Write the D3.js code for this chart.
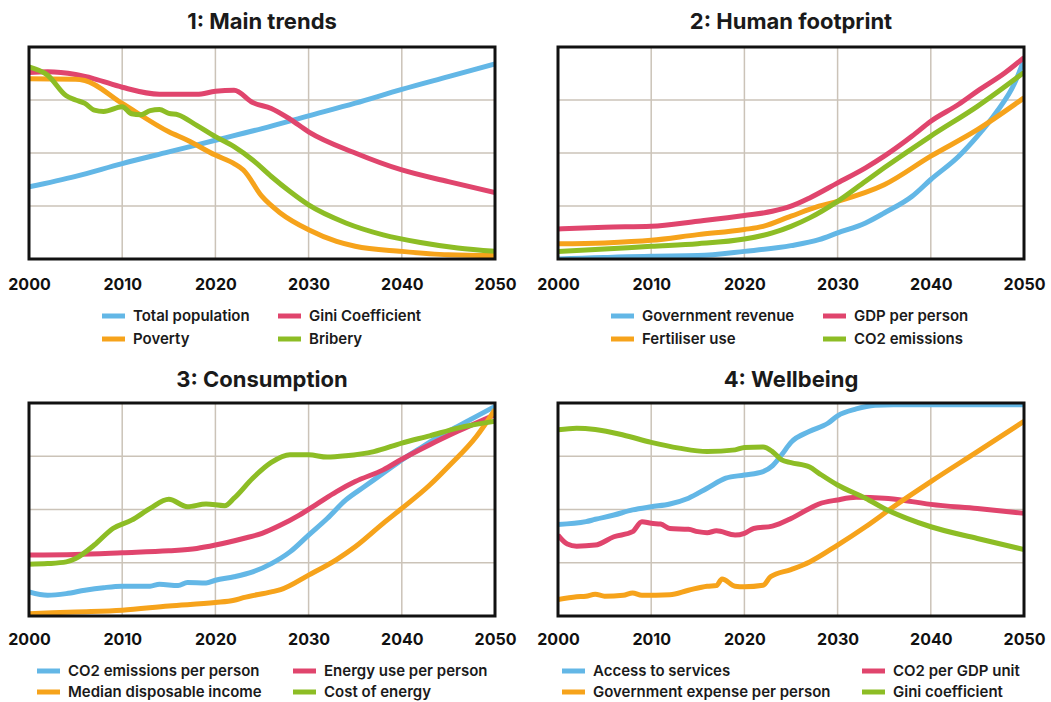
<!DOCTYPE html>
<html><head><meta charset="utf-8">
<script src="https://cdn.jsdelivr.net/npm/d3@7"></script>
<style>
html,body{margin:0;padding:0;background:#fff;}
svg{display:block;font-family:Inter,"Liberation Sans",sans-serif;}
</style></head><body>
<svg id="chart" width="1051" height="702"></svg>
<script>
// ---------- DATA ----------
const years = [2000, 2010, 2020, 2030, 2040, 2050];
const tickLabels = ["2000", "2010", "2020", "2030", "2040", "2050"];
const panelTitles = ["1: Main trends", "2: Human footprint", "3: Consumption", "4: Wellbeing"];

// Panel 1: Main trends
const p1Names = ["Total population", "Gini Coefficient", "Poverty", "Bribery"];
const p1Population = [[2000,34],[2005,39],[2010,45],[2015,50.5],[2020,56],[2025,61.5],[2030,67.5],[2035,73.5],[2040,80],[2045,86],[2050,92]];
const p1Gini = [[2000,88],[2002,88.3],[2005,87],[2007,85],[2010,81],[2014,77.7],[2018,77.7],[2020,79.1],[2022,79.6],[2024,73.8],[2026,71],[2028,66],[2030,60],[2035,50],[2040,42],[2045,36.5],[2050,31.3]];
const p1Poverty = [[2000,85],[2005,84.8],[2006,84.2],[2010,73.4],[2015,60],[2017,56],[2020,49],[2022,45],[2023,42],[2025,29.5],[2027,21.6],[2030,13.8],[2033,8.3],[2035,6],[2040,3.6],[2045,2],[2050,1.6]];
const p1Bribery = [[2000,90.6],[2002,86.7],[2004,77],[2005,75],[2006,73.4],[2007,70.2],[2008,69.6],[2010,71.8],[2011,68.5],[2012,68],[2013,70],[2014,70.5],[2015,68.7],[2016,68],[2018,63],[2020,57.7],[2022,53],[2024,46.7],[2026,38.9],[2028,31.8],[2030,25.5],[2034,17],[2038,11.4],[2042,7.8],[2046,5.2],[2050,3.6]];

// Panel 2: Human footprint
const p2Names = ["Government revenue", "GDP per person", "Fertiliser use", "CO2 emissions"];
const p2Revenue = [[2000,0],[2010,1.3],[2015,1.6],[2020,3.6],[2025,6.3],[2028,9.1],[2030,12.3],[2033,17],[2035,21.7],[2038,29.6],[2040,37.5],[2043,48.5],[2045,58],[2047,69],[2049,83],[2050,94]];
const p2GDP = [[2000,14.2],[2005,15],[2010,15.4],[2015,17.8],[2020,20.5],[2023,22.5],[2025,24.9],[2027,28.8],[2030,35.9],[2033,43],[2035,48.5],[2038,58],[2040,65],[2043,73],[2045,79.2],[2048,88],[2050,95]];
const p2Fertiliser = [[2000,7.2],[2005,7.6],[2010,8.8],[2015,11.5],[2020,13.9],[2022,15.4],[2025,20.2],[2028,24.9],[2030,27.2],[2035,35],[2040,48.5],[2045,61],[2050,76]];
const p2CO2 = [[2000,3.5],[2005,4.7],[2010,6],[2015,7.2],[2020,9.4],[2023,12.3],[2025,15.4],[2027,19.4],[2030,27.2],[2033,36.7],[2035,43],[2040,58],[2045,72],[2050,88]];

// Panel 3: Consumption
const p3Names = ["CO2 emissions per person", "Energy use per person", "Median disposable income", "Cost of energy"];
const p3CO2pp = [[2000,11.3],[2002,9.7],[2004,10.5],[2006,12.1],[2008,13.3],[2010,14],[2013,14],[2014,14.9],[2016,14.3],[2017,15.7],[2019,15.5],[2020,16.8],[2022,18.4],[2024,20.7],[2026,24.6],[2028,30.1],[2030,38],[2032,45.8],[2034,54.5],[2036,60.8],[2038,67],[2040,73.3],[2042,78.8],[2044,84.3],[2046,89],[2048,93.7],[2050,98.4]];
const p3Energy = [[2000,28.6],[2005,28.9],[2010,29.7],[2015,30.6],[2018,31.7],[2020,33.3],[2023,36.4],[2025,38.8],[2027,42.7],[2029,47.4],[2031,52.9],[2033,58.4],[2035,63.1],[2038,68.6],[2040,73.6],[2043,80.4],[2046,86.7],[2050,94.5]];
const p3Income = [[2000,1.1],[2005,1.9],[2010,2.7],[2015,4.7],[2020,6.3],[2022,7.4],[2023,8.6],[2026,11.3],[2027,12.4],[2030,19.2],[2033,26.5],[2035,32.5],[2038,43.5],[2040,50.5],[2043,61.5],[2045,70.2],[2048,84.3],[2050,96.9]];
const p3CostEnergy = [[2000,24.3],[2002,24.6],[2004,25.4],[2005,27],[2007,33.3],[2009,41.1],[2011,45],[2013,50.5],[2015,54.8],[2017,51.3],[2019,52.6],[2021,51.8],[2022,55.3],[2024,64.7],[2026,72.1],[2028,75.7],[2030,75.7],[2032,74.6],[2034,75.2],[2037,77.2],[2040,81.2],[2043,84.6],[2046,88.2],[2050,91.4]];

// Panel 4: Wellbeing
const p4Names = ["Access to services", "CO2 per GDP unit", "Government expense per person", "Gini coefficient"];
const p4Access = [[2000,43],[2003,44.3],[2004,45.4],[2006,47.4],[2008,49.8],[2010,51.3],[2012,52.6],[2014,55.3],[2016,60],[2018,64.7],[2020,66.2],[2022,67.8],[2023,70.5],[2024,75.7],[2025,81.5],[2027,86.7],[2029,90.6],[2030,94],[2032,97.2],[2034,98.9],[2036,99.2],[2050,99.2]];
const p4CO2GDP = [[2000,38],[2001,33.8],[2002,32.8],[2004,33.3],[2006,37.2],[2008,39.6],[2009,44.3],[2010,43.5],[2011,43.2],[2012,41.1],[2014,40.7],[2015,39.6],[2016,39.1],[2017,40],[2019,38],[2020,38.8],[2021,41.1],[2023,42.2],[2025,45.8],[2027,50.5],[2028,52.6],[2030,54.5],[2032,55.7],[2035,55.3],[2038,53.7],[2040,52.4],[2045,50.5],[2050,48.2]];
const p4Expense = [[2000,7.7],[2002,9],[2003,9.3],[2004,10.2],[2005,9.3],[2007,9.7],[2008,10.8],[2009,9.7],[2012,10],[2014,12.1],[2016,14],[2017,14.3],[2017.6,17.4],[2019,14],[2020,13.7],[2022,14.4],[2022.8,18.4],[2025,21.8],[2027,25.4],[2030,33.3],[2033,41.9],[2036,51.3],[2040,63.1],[2045,77.2],[2050,91.4]];
const p4Gini = [[2000,87.4],[2002,88.2],[2004,87.6],[2007,85],[2010,81.5],[2013,78.8],[2016,77.2],[2019,78],[2020,79.1],[2022,79.3],[2023,77.2],[2024,73.3],[2025,72],[2027,69.9],[2028,67],[2030,61.5],[2033,55.3],[2035,50.5],[2040,41.9],[2045,36.4],[2050,31.2]];

// ---------- STYLE ----------
const colors = ["#63b7e6", "#e0456d", "#f6a31b", "#8dbd25"]; // blue, pink, orange, green
const gridColor = "#cbc3b8";

const panels = [
  {title: panelTitles[0], names: p1Names, series: [p1Population, p1Gini, p1Poverty, p1Bribery],
   x0: 29, x1: 495, y0: 47, y1: 259, tickY: 284, titleY: 29, legY: 316, legGap: 23,
   legCols: [102, 278]},
  {title: panelTitles[1], names: p2Names, series: [p2Revenue, p2GDP, p2Fertiliser, p2CO2],
   x0: 558, x1: 1024, y0: 47, y1: 259, tickY: 284, titleY: 29, legY: 316, legGap: 23,
   legCols: [611, 823]},
  {title: panelTitles[2], names: p3Names, series: [p3CO2pp, p3Energy, p3Income, p3CostEnergy],
   x0: 29, x1: 495, y0: 403, y1: 616, tickY: 639, titleY: 387, legY: 671, legGap: 21,
   legCols: [37, 293]},
  {title: panelTitles[3], names: p4Names, series: [p4Access, p4CO2GDP, p4Expense, p4Gini],
   x0: 558, x1: 1024, y0: 403, y1: 616, tickY: 639, titleY: 387, legY: 671, legGap: 21,
   legCols: [562, 862]}
];
// legend order: [col0,row0],[col1,row0],[col0,row1],[col1,row1]
const legendSlots = [[0,0],[1,0],[0,1],[1,1]];

const svg = d3.select("#chart");

panels.forEach((p, pi) => {
  const g = svg.append("g");
  const x = d3.scaleLinear().domain([2000, 2050]).range([p.x0, p.x1]);
  const y = d3.scaleLinear().domain([0, 100]).range([p.y1, p.y0]);

  // title
  g.append("text").attr("x", (p.x0 + p.x1) / 2).attr("y", p.titleY)
    .attr("text-anchor", "middle").attr("font-size", 22).attr("font-weight", 700)
    .attr("fill", "#1a1a1a").text(p.title);

  // grid
  const grid = g.append("g");
  grid.selectAll("line.v").data(years.slice(1, -1)).join("line")
    .attr("x1", d => x(d)).attr("x2", d => x(d)).attr("y1", p.y0).attr("y2", p.y1)
    .attr("stroke", gridColor).attr("stroke-width", 1.5);
  grid.selectAll("line.h").data([25, 50, 75]).join("line")
    .attr("y1", d => y(d)).attr("y2", d => y(d)).attr("x1", p.x0).attr("x2", p.x1)
    .attr("stroke", gridColor).attr("stroke-width", 1.5);

  // clip
  const clipId = "clip" + pi;
  svg.append("clipPath").attr("id", clipId).append("rect")
    .attr("x", p.x0).attr("y", p.y0 - 1).attr("width", p.x1 - p.x0).attr("height", p.y1 - p.y0 + 1);

  const line = d3.line().x(d => x(d[0])).y(d => y(d[1])).curve(d3.curveMonotoneX);
  const lines = g.append("g").attr("clip-path", `url(#${clipId})`);
  p.series.forEach((s, si) => {
    lines.append("path").datum(s).attr("d", line).attr("fill", "none")
      .attr("stroke", colors[si]).attr("stroke-width", 5)
      .attr("stroke-linejoin", "round").attr("stroke-linecap", "butt");
  });

  // frame
  g.append("rect").attr("x", p.x0).attr("y", p.y0).attr("width", p.x1 - p.x0).attr("height", p.y1 - p.y0)
    .attr("fill", "none").attr("stroke", "#111").attr("stroke-width", 3);

  // x axis ticks via d3 axis
  const axis = d3.axisBottom(x).tickValues(years).tickFormat((d, i) => tickLabels[i]).tickSize(0);
  const ax = g.append("g").attr("transform", `translate(0,${p.y1})`).call(axis);
  ax.select(".domain").remove();
  ax.selectAll("text").attr("font-size", 16).attr("font-weight", 700).attr("fill", "#111")
    .attr("font-family", "Inter, 'Liberation Sans', sans-serif")
    .attr("y", p.tickY - p.y1).attr("dy", "0.35em");

  // legend
  p.names.forEach((name, si) => {
    const [c, r] = legendSlots[si];
    const lx = p.legCols[c], ly = p.legY + r * p.legGap;
    g.append("line").attr("x1", lx).attr("x2", lx + 23).attr("y1", ly).attr("y2", ly)
      .attr("stroke", colors[si]).attr("stroke-width", 5);
    g.append("text").attr("x", lx + 31).attr("y", ly).attr("dy", "0.35em")
      .attr("font-size", 15).attr("font-weight", 600).attr("fill", "#1a1a1a").text(name);
  });
});
</script>
</body></html>
